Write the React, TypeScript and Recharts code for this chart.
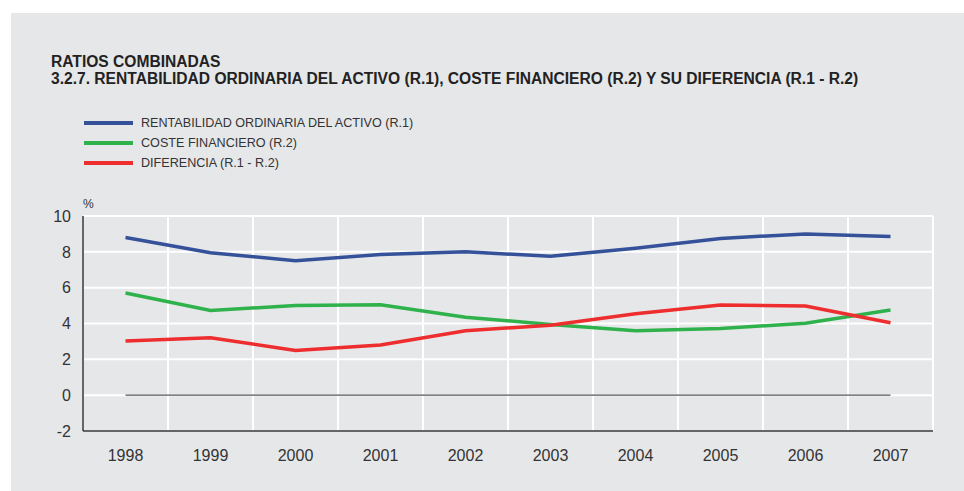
import React from "react";
import { LineChart, Line, XAxis, YAxis, CartesianGrid, ReferenceLine } from "recharts";

const years = [1998, 1999, 2000, 2001, 2002, 2003, 2004, 2005, 2006, 2007];
const rentabilidad = [8.8, 7.95, 7.5, 7.85, 8.0, 7.75, 8.2, 8.75, 9.0, 8.85];
const costeFinanciero = [5.7, 4.73, 5.0, 5.05, 4.35, 3.95, 3.6, 3.72, 4.02, 4.75];
const diferencia = [3.02, 3.2, 2.5, 2.8, 3.6, 3.9, 4.55, 5.03, 4.97, 4.04];
const yTicks = [-2, 0, 2, 4, 6, 8, 10];

const series = [
  { key: "r1", name: "RENTABILIDAD ORDINARIA DEL ACTIVO (R.1)", color: "#34519a", values: rentabilidad },
  { key: "r2", name: "COSTE FINANCIERO (R.2)", color: "#2fb24b", values: costeFinanciero },
  { key: "dif", name: "DIFERENCIA (R.1 - R.2)", color: "#ee2d2e", values: diferencia },
];

const data = years.map((year, i) => ({
  year,
  r1: rentabilidad[i],
  r2: costeFinanciero[i],
  dif: diferencia[i],
}));

const FONT = "'Liberation Sans', Arial, sans-serif";

export default function App() {
  // vertical gridlines sit between the years, not on them
  const boundaries = [...years.map((y) => y - 0.5), years[years.length - 1] + 0.5];
  const x0 = boundaries[0];
  const x1 = boundaries[boundaries.length - 1];

  return (
    <div
      style={{
        position: "absolute",
        left: 11,
        top: 13,
        width: 953,
        height: 478,
        background: "#e6e7e9",
        fontFamily: FONT,
        color: "#222",
      }}
    >
      <div style={{ position: "absolute", left: 40, top: 39.5, fontSize: 15.6, lineHeight: "17.5px", fontWeight: "bold" }}>
        <div>RATIOS COMBINADAS</div>
        <div>3.2.7. RENTABILIDAD ORDINARIA DEL ACTIVO (R.1), COSTE FINANCIERO (R.2) Y SU DIFERENCIA (R.1 - R.2)</div>
      </div>

      <div style={{ position: "absolute", left: 73, top: 100 }}>
        {series.map((s) => (
          <div key={s.key} style={{ display: "flex", alignItems: "center", height: 20 }}>
            <div style={{ width: 49, height: 4, background: s.color }} />
            <span style={{ marginLeft: 8, fontSize: 12.6, color: "#333" }}>{s.name}</span>
          </div>
        ))}
      </div>

      <div style={{ position: "absolute", left: 72, top: 184, fontSize: 12, color: "#333" }}>%</div>

      <div style={{ position: "absolute", left: 0, top: 180 }}>
        <LineChart width={953} height={298} data={data} margin={{ top: 23, right: 31, bottom: 20, left: 0 }}>
          <CartesianGrid
            stroke="#ffffff"
            strokeWidth={2}
            verticalCoordinatesGenerator={({ offset }: any) =>
              boundaries.map((b) => offset.left + ((b - x0) / (x1 - x0)) * offset.width)
            }
          />
          <XAxis
            dataKey="year"
            type="number"
            domain={[x0, x1]}
            ticks={years}
            height={40}
            tickLine={false}
            tickSize={0}
            tickMargin={19}
            axisLine={{ stroke: "#333", strokeWidth: 1.5 }}
            tick={{ fill: "#333", fontSize: 16, fontFamily: FONT }}
          />
          <YAxis
            type="number"
            domain={[-2, 10]}
            ticks={yTicks}
            width={72}
            tickLine={false}
            tickSize={0}
            tickMargin={12}
            axisLine={{ stroke: "#333", strokeWidth: 1.5 }}
            tick={{ fill: "#333", fontSize: 16, fontFamily: FONT }}
          />
          <ReferenceLine
            segment={[
              { x: years[0], y: 0 },
              { x: years[years.length - 1], y: 0 },
            ]}
            stroke="#555"
            strokeWidth={1.2}
          />
          {series.map((s) => (
            <Line
              key={s.key}
              dataKey={s.key}
              name={s.name}
              type="linear"
              stroke={s.color}
              strokeWidth={3.5}
              dot={false}
              activeDot={false}
              isAnimationActive={false}
            />
          ))}
        </LineChart>
      </div>
    </div>
  );
}
